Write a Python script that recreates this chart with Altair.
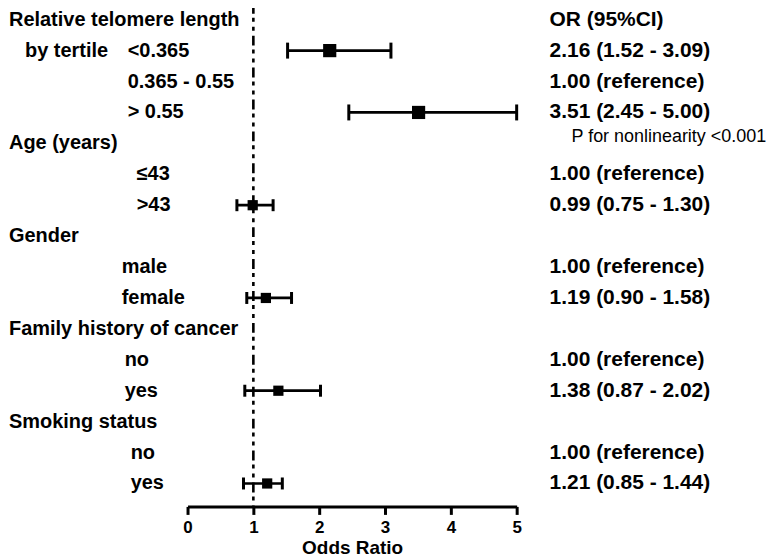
import altair as alt
import pandas as pd

# ---- data ----
main_labels = ["Relative telomere length", "", "", "", "Age (years)", "", "", "Gender", "", "",
               "Family history of cancer", "", "", "Smoking status", "", ""]
sub_labels = ["", "by tertile", "", "", "", "", "", "", "", "", "", "", "", "", "", ""]
level_labels = ["", "<0.365", "0.365 - 0.55", "> 0.55", "", "≤43", ">43", "", "male", "female",
                "", "no", "yes", "", "no", "yes"]
or_texts = ["OR (95%CI)", "2.16 (1.52 - 3.09)", "1.00 (reference)", "3.51 (2.45 - 5.00)", "",
            "1.00 (reference)", "0.99 (0.75 - 1.30)", "", "1.00 (reference)", "1.19 (0.90 - 1.58)",
            "", "1.00 (reference)", "1.38 (0.87 - 2.02)", "", "1.00 (reference)", "1.21 (0.85 - 1.44)"]
or_vals = [None, 2.16, None, 3.51, None, None, 0.99, None, None, 1.19, None, None, 1.38, None, None, 1.21]
ci_low = [None, 1.52, None, 2.45, None, None, 0.75, None, None, 0.90, None, None, 0.87, None, None, 0.85]
ci_high = [None, 3.09, None, 5.00, None, None, 1.30, None, None, 1.58, None, None, 2.02, None, None, 1.44]
groups = ["tel"] * 4 + ["age"] * 3 + ["gender"] * 3 + ["family"] * 3 + ["smoking"] * 3
note_text = "P for nonlinearity <0.001"
note_row = 3
x_ticks = [0, 1, 2, 3, 4, 5]
ref_value = [1]

# ---- layout / style ----
FONT = "Liberation Sans"
W, H = 330, 499
STEP = 31.0
TOP = 11
level_indent = {"tel": -60, "age": -51, "gender": -66, "family": -63, "smoking": -57}

df = pd.DataFrame({
    "row": list(range(len(main_labels))),
    "main": main_labels,
    "sub": sub_labels,
    "level": level_labels,
    "ortext": or_texts,
    "or": or_vals,
    "lo": ci_low,
    "hi": ci_high,
    "group": groups,
})
df["big"] = df["group"] == "tel"
df["note"] = [note_text if i == note_row else "" for i in range(len(df))]

d0 = -TOP / STEP
y_scale = alt.Scale(domain=[d0, d0 + H / STEP], reverse=True, nice=False, zero=False)
x_scale = alt.Scale(domain=[0, 5], nice=False)
Y = alt.Y("row:Q", scale=y_scale, axis=None)

base = alt.Chart(df)
valid = base.transform_filter("isValid(datum.or)")

ci = valid.mark_rule(color="black", strokeWidth=2.7).encode(
    x=alt.X("lo:Q", scale=x_scale, title="Odds Ratio",
            axis=alt.Axis(values=x_ticks, format="d", grid=False, domainWidth=3, tickWidth=3,
                          tickSize=8, domainColor="black", tickColor="black", labelColor="black",
                          labelFontSize=17, labelFontWeight="bold", labelFont=FONT,
                          labelPadding=5, titleFontSize=19, titleFontWeight="bold",
                          titleFont=FONT, titleColor="black", titlePadding=3,
                          labelFlush=False)),
    x2="hi:Q",
    y=Y,
)
cap_size = alt.Size("big:N", scale=alt.Scale(domain=[True, False], range=[16, 12]), legend=None)
cap_lo = valid.mark_tick(orient="vertical", thickness=3, color="black", opacity=1).encode(
    x=alt.X("lo:Q", scale=x_scale), y=Y, size=cap_size)
cap_hi = valid.mark_tick(orient="vertical", thickness=3, color="black", opacity=1).encode(
    x=alt.X("hi:Q", scale=x_scale), y=Y, size=cap_size)
caps = alt.layer(cap_lo, cap_hi)
squares = valid.mark_square(color="black", filled=True, opacity=1).encode(
    x=alt.X("or:Q", scale=x_scale), y=Y,
    size=alt.Size("big:N", scale=alt.Scale(domain=[True, False], range=[175, 105]), legend=None))

ref = alt.Chart(pd.DataFrame({"ref": ref_value})).mark_rule(
    color="black", strokeWidth=2.6, strokeDash=[10, 4, 4, 5, 4, 5]).encode(
    x=alt.X("ref:Q", scale=x_scale), y=alt.value(-5), y2=alt.value(H))

txt = dict(align="left", baseline="middle", font=FONT, color="black")
main_t = base.transform_filter("datum.main != ''").mark_text(
    fontSize=20, fontWeight="bold", **txt).encode(x=alt.value(-179), y=Y, text="main:N")
sub_t = base.transform_filter("datum.sub != ''").mark_text(
    fontSize=20, fontWeight="bold", **txt).encode(x=alt.value(-163), y=Y, text="sub:N")
level_layers = []
for g, ind in level_indent.items():
    level_layers.append(
        base.transform_filter(f"datum.level != '' && datum.group == '{g}'").mark_text(
            fontSize=20, fontWeight="bold", **txt).encode(x=alt.value(ind), y=Y, text="level:N"))
or_t = base.transform_filter("datum.ortext != ''").mark_text(
    fontSize=21, fontWeight="bold", **txt).encode(x=alt.value(363), y=Y, text="ortext:N")
note_t = base.transform_filter("datum.note != ''").mark_text(
    fontSize=18, fontWeight="normal", dy=25, **txt).encode(x=alt.value(385), y=Y, text="note:N")

chart = alt.layer(ref, ci, caps, squares, main_t, sub_t, *level_layers, or_t, note_t).resolve_scale(
    size="independent"
).properties(
    width=W, height=H,
    autosize=alt.AutoSizeParams(type="none"),
    padding={"left": 180, "top": 0, "right": 256, "bottom": 53},
).configure(background="white").configure_view(stroke=None)

chart.save("out.html", embed_options={"renderer": "svg", "actions": False})
